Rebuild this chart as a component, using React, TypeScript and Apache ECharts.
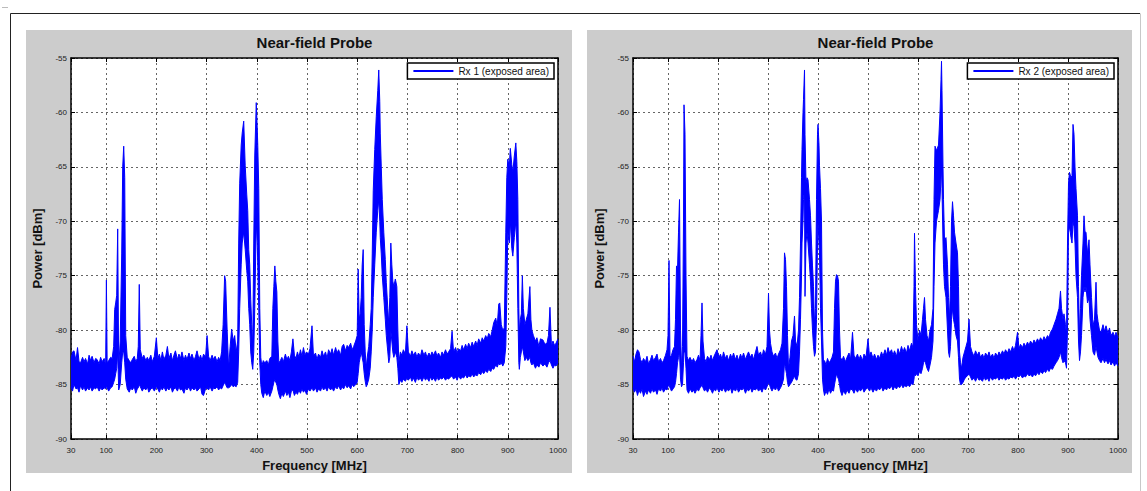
import React, { useEffect, useRef } from "react";
import * as echarts from "echarts";

// ---------- data ----------
const freqTicks = [30, 100, 200, 300, 400, 500, 600, 700, 800, 900, 1000];
const powerMin = -90;
const powerMax = -55;
const powerStep = 5;
const titles = ["Near-field Probe", "Near-field Probe"];
const seriesNames = ["Rx 1 (exposed area)", "Rx 2 (exposed area)"];
const xName = "Frequency [MHz]";
const yName = "Power [dBm]";

// [frequency MHz, upper envelope dBm, lower envelope dBm]
const rx1: [number, number, number][] = [
  [30, -82.7, -85.2], [33, -82.0, -85.6], [36, -81.9, -85.0], [40, -82.8, -85.4], [43, -81.6, -85.3],
  [46, -82.9, -85.7], [49, -83.0, -85.1], [53, -82.5, -85.5], [56, -82.9, -85.2], [59, -82.6, -85.6],
  [63, -83.1, -85.3], [66, -82.3, -85.5], [69, -82.8, -85.2], [72, -82.4, -85.6], [76, -83.0, -85.3],
  [79, -82.6, -85.4], [82, -82.7, -85.2], [86, -83.1, -85.6], [89, -82.5, -85.3], [92, -82.9, -85.5],
  [96, -82.6, -85.3], [99, -83.2, -85.4], [100.5, -75.4, -85.2], [102, -83.0, -85.3], [105, -82.8, -85.6],
  [109, -82.5, -85.3], [112, -82.6, -85.2], [115, -81.5, -84.8], [117, -78.1, -84.5], [119, -77.5, -84.0],
  [121, -76.8, -83.5], [123, -70.7, -82.0], [125, -83.5, -85.5], [128, -81.0, -85.0], [131, -73.0, -83.0],
  [133, -65.0, -82.0], [135, -63.1, -82.0], [137, -66.0, -83.0], [139, -80.5, -84.5], [142, -82.5, -85.4],
  [146, -82.8, -85.7], [149, -83.0, -85.3], [152, -82.7, -85.5], [156, -82.4, -85.2], [159, -82.9, -85.8],
  [162, -82.6, -85.4], [164, -81.5, -85.3], [166, -75.8, -85.0], [168, -81.8, -85.2], [172, -82.6, -85.6],
  [175, -82.3, -85.3], [179, -82.8, -85.5], [182, -82.5, -85.2], [185, -82.8, -85.7], [189, -82.3, -85.4],
  [192, -82.9, -85.3], [196, -82.4, -85.6], [200, -80.7, -85.2], [203, -82.6, -85.4], [206, -82.2, -85.7],
  [209, -82.8, -85.3], [212, -82.0, -85.5], [215, -82.7, -85.2], [219, -82.3, -85.6], [222, -81.5, -85.3],
  [225, -82.6, -85.5], [229, -82.1, -85.2], [232, -82.8, -85.7], [235, -82.3, -85.4], [238, -81.9, -85.3],
  [242, -82.7, -85.6], [245, -82.2, -85.2], [248, -82.6, -85.5], [251, -82.0, -85.4], [255, -82.8, -85.8],
  [258, -82.3, -85.3], [261, -82.7, -85.5], [265, -82.1, -85.2], [268, -82.6, -85.6], [271, -82.2, -85.3],
  [275, -82.8, -85.5], [278, -82.4, -85.3], [281, -81.9, -85.6], [285, -82.7, -85.4], [288, -82.3, -85.2],
  [291, -82.8, -85.9], [294, -82.2, -86.0], [298, -82.5, -85.4], [301, -80.5, -85.3], [304, -82.4, -85.5],
  [307, -82.8, -85.2], [311, -82.3, -85.6], [314, -82.7, -85.3], [317, -82.4, -85.4], [321, -82.9, -85.2],
  [324, -82.5, -85.5], [327, -82.8, -85.3], [330, -82.0, -85.4], [333, -79.5, -85.1], [336, -75.0, -84.8],
  [338, -75.5, -85.0], [341, -80.0, -85.3], [344, -83.5, -85.3], [347, -81.5, -85.2], [350, -79.9, -85.0],
  [353, -81.0, -85.2], [356, -80.5, -85.1], [359, -82.0, -85.2], [362, -81.0, -84.8], [364, -72.0, -82.0],
  [366, -66.5, -78.0], [369, -63.0, -74.0], [371, -61.9, -72.0], [374, -60.8, -71.0], [377, -64.9, -72.6],
  [380, -67.5, -74.5], [382, -69.0, -75.5], [384, -72.6, -78.0], [386, -74.0, -79.5], [388, -77.2, -82.0],
  [390, -79.5, -83.0], [392, -81.5, -83.6], [394, -72.0, -82.0], [396, -64.0, -78.0], [399, -59.1, -70.0],
  [401, -61.5, -72.0], [402, -63.0, -74.0], [404, -67.0, -78.0], [406, -78.0, -83.0], [408, -82.5, -85.0],
  [410, -83.3, -85.8], [413, -82.8, -86.2], [416, -83.0, -85.6], [420, -82.8, -86.0], [423, -83.2, -85.7],
  [426, -82.6, -86.1], [430, -82.4, -85.6], [432, -78.0, -85.2], [434, -76.0, -84.8], [436, -74.1, -84.5],
  [438, -75.5, -84.8], [440, -76.5, -85.0], [442, -81.0, -85.5], [444, -83.0, -85.9], [447, -82.8, -86.3],
  [450, -82.5, -85.8], [453, -82.9, -86.1], [457, -82.2, -85.6], [460, -82.7, -86.0], [463, -82.4, -85.7],
  [466, -82.8, -86.2], [469, -82.0, -85.6], [472, -80.8, -85.5], [475, -82.3, -86.0], [478, -82.6, -85.7],
  [481, -82.0, -85.9], [484, -82.5, -85.5], [487, -81.8, -85.8], [490, -82.4, -85.4], [493, -81.6, -85.7],
  [496, -82.3, -85.5], [499, -82.0, -85.9], [503, -82.2, -85.4], [506, -81.7, -85.6], [510, -79.6, -85.3],
  [513, -82.4, -85.6], [517, -82.1, -85.3], [520, -82.7, -85.7], [523, -82.2, -85.4], [527, -82.5, -85.6],
  [530, -81.9, -85.2], [533, -82.4, -85.5], [537, -82.0, -85.3], [540, -82.6, -85.6], [543, -81.8, -85.2],
  [547, -82.2, -85.5], [550, -81.7, -85.3], [553, -82.3, -85.6], [557, -81.6, -85.2], [560, -82.1, -85.4],
  [563, -81.8, -85.1], [567, -82.3, -85.5], [570, -81.5, -85.2], [573, -81.3, -85.4], [577, -81.9, -85.0],
  [580, -81.4, -85.3], [583, -81.6, -85.1], [587, -81.2, -85.4], [590, -81.8, -85.0], [593, -81.5, -85.2],
  [597, -81.0, -85.0], [600, -80.5, -84.8], [602, -74.4, -84.0], [604, -79.0, -83.0], [606, -78.5, -82.5],
  [608, -77.0, -82.0], [610, -74.0, -82.5], [612, -72.6, -83.0], [614, -79.5, -84.0], [616, -82.0, -84.7],
  [618, -83.5, -85.2], [620, -82.5, -85.0], [623, -81.5, -84.5], [626, -79.5, -83.5], [628, -78.0, -82.0],
  [630, -73.0, -80.0], [632, -67.2, -77.0], [635, -63.4, -74.0], [638, -60.4, -71.0], [641, -58.0, -69.0],
  [643, -56.1, -68.0], [645, -59.0, -70.0], [646, -61.9, -71.5], [648, -65.0, -73.0], [650, -68.0, -75.0],
  [653, -71.0, -77.0], [656, -73.5, -79.0], [658, -75.6, -80.5], [661, -78.0, -82.0], [663, -79.5, -83.0],
  [665, -77.0, -82.5], [667, -72.0, -80.0], [669, -74.0, -81.0], [671, -75.5, -82.0], [673, -76.0, -82.5],
  [676, -75.3, -82.0], [679, -76.0, -82.5], [681, -80.0, -83.5], [683, -83.0, -85.0], [686, -82.0, -84.6],
  [689, -82.3, -84.8], [692, -81.8, -84.5], [696, -82.2, -84.7], [699, -79.6, -84.4], [702, -82.0, -84.6],
  [706, -82.4, -84.3], [709, -81.9, -84.7], [712, -82.3, -84.4], [716, -82.0, -84.8], [719, -82.5, -84.3],
  [722, -82.1, -84.6], [726, -82.4, -84.4], [729, -81.8, -84.7], [733, -82.3, -84.3], [736, -82.0, -84.6],
  [739, -82.5, -84.4], [743, -82.1, -84.7], [746, -82.4, -84.3], [749, -82.0, -84.6], [752, -82.3, -84.4],
  [756, -81.9, -84.7], [759, -82.4, -84.3], [762, -82.1, -84.6], [766, -82.5, -84.4], [769, -82.0, -84.5],
  [772, -82.3, -84.3], [776, -81.8, -84.6], [779, -82.2, -84.4], [782, -82.0, -84.5], [786, -81.7, -84.3],
  [789, -80.1, -84.2], [792, -82.0, -84.5], [796, -81.6, -84.3], [799, -82.1, -84.6], [802, -81.7, -84.2],
  [806, -81.9, -84.5], [809, -81.4, -84.3], [812, -81.8, -84.4], [816, -81.3, -84.1], [819, -81.7, -84.4],
  [822, -81.2, -84.2], [826, -81.6, -84.3], [829, -81.1, -84.0], [832, -81.5, -84.3], [836, -81.0, -84.1],
  [839, -81.4, -84.2], [842, -80.8, -83.9], [846, -81.2, -84.1], [849, -80.7, -83.8], [852, -81.0, -84.0],
  [856, -80.5, -83.7], [859, -80.8, -83.9], [862, -80.3, -83.6], [866, -80.6, -83.8], [869, -80.0, -83.5],
  [872, -79.3, -83.6], [876, -78.9, -83.2], [879, -79.6, -83.4], [882, -77.6, -83.0], [884, -77.5, -83.2],
  [887, -79.5, -83.0], [890, -80.0, -83.3], [893, -79.8, -83.0], [896, -71.0, -81.5], [898, -66.0, -77.0],
  [900, -64.3, -71.0], [903, -65.0, -72.0], [905, -63.3, -70.0], [908, -64.8, -72.5], [910, -65.5, -73.2],
  [913, -64.0, -71.5], [916, -62.8, -70.0], [918, -64.5, -72.0], [920, -68.0, -78.0], [922, -78.0, -83.0],
  [923, -80.2, -83.6], [925, -79.0, -82.5], [927, -78.5, -82.0], [929, -75.0, -81.5], [931, -78.0, -82.0],
  [934, -79.5, -82.8], [937, -79.0, -82.5], [940, -78.5, -82.8], [944, -76.0, -82.5], [946, -79.0, -83.0],
  [948, -80.0, -83.2], [951, -80.5, -83.0], [955, -81.0, -83.5], [958, -80.7, -83.2], [962, -81.5, -83.4],
  [965, -80.8, -83.0], [970, -80.9, -83.3], [974, -81.3, -83.1], [978, -81.2, -83.4], [981, -80.5, -83.0],
  [984, -77.9, -82.8], [987, -81.5, -83.2], [990, -81.0, -83.5], [993, -81.4, -83.2], [996, -81.2, -83.3],
  [1000, -80.8, -83.0],
];

const rx2: [number, number, number][] = [
  [30, -82.4, -85.3], [33, -82.9, -85.7], [36, -82.2, -85.4], [39, -81.8, -86.0], [42, -82.0, -85.5],
  [45, -82.7, -85.8], [48, -83.0, -85.4], [51, -82.6, -86.1], [55, -82.9, -85.6], [58, -82.4, -85.9],
  [61, -83.1, -85.5], [65, -82.7, -85.8], [68, -82.3, -85.4], [71, -82.8, -85.7], [75, -82.5, -85.5],
  [78, -82.2, -85.9], [81, -82.9, -85.4], [85, -82.6, -85.6], [88, -83.0, -85.3], [91, -82.8, -85.7],
  [95, -82.3, -85.4], [98, -81.8, -85.5], [100, -80.5, -85.2], [102, -73.6, -85.0], [104, -82.5, -85.3],
  [107, -82.3, -85.6], [110, -81.8, -85.4], [113, -81.5, -85.2], [115, -79.0, -84.8], [117, -74.1, -84.0],
  [119, -74.5, -83.0], [121, -71.0, -82.5], [123, -68.0, -82.0], [125, -80.0, -84.5], [127, -83.5, -85.2],
  [129, -81.5, -85.0], [131, -70.0, -83.0], [132, -59.3, -82.0], [134, -62.0, -82.0], [136, -75.0, -83.5],
  [138, -82.4, -85.5], [141, -82.8, -85.8], [144, -82.5, -85.4], [148, -82.9, -85.7], [151, -82.6, -85.5],
  [154, -83.0, -85.8], [158, -82.7, -85.4], [161, -82.3, -85.6], [164, -82.8, -85.3], [166, -80.5, -85.2],
  [168, -77.5, -85.0], [170, -81.0, -85.3], [173, -82.6, -85.6], [176, -82.9, -85.4], [179, -82.4, -85.7],
  [183, -82.7, -85.3], [186, -82.3, -85.5], [189, -82.8, -85.8], [192, -82.4, -85.4], [195, -82.1, -85.6],
  [198, -81.8, -85.3], [202, -82.5, -85.7], [205, -82.2, -85.4], [208, -82.7, -85.6], [211, -82.0, -85.3],
  [215, -82.6, -85.7], [218, -82.3, -85.4], [221, -82.8, -85.6], [225, -82.2, -85.3], [228, -82.6, -85.8],
  [231, -82.1, -85.4], [235, -82.7, -85.6], [238, -82.3, -85.3], [241, -82.8, -85.7], [245, -82.2, -85.4],
  [248, -82.6, -85.5], [251, -82.1, -85.3], [255, -82.7, -85.8], [258, -82.3, -85.4], [261, -82.0, -85.6],
  [265, -82.5, -85.3], [268, -82.2, -85.7], [271, -82.7, -85.4], [275, -82.0, -85.5], [278, -81.5, -85.3],
  [281, -82.3, -85.6], [285, -82.0, -85.4], [288, -82.5, -85.7], [291, -81.8, -85.3], [295, -82.2, -85.5],
  [298, -81.5, -85.2], [301, -76.6, -84.8], [303, -80.0, -85.0], [305, -81.2, -85.3], [308, -82.0, -85.6],
  [311, -82.4, -85.3], [315, -82.1, -85.5], [318, -82.6, -85.2], [321, -82.2, -85.6], [325, -81.8, -85.3],
  [328, -81.2, -85.0], [331, -78.0, -84.5], [333, -72.9, -83.0], [335, -73.5, -83.5], [337, -76.0, -84.0],
  [339, -80.5, -84.8], [341, -83.5, -85.2], [344, -82.5, -85.0], [347, -81.0, -84.8], [350, -80.5, -84.5],
  [353, -78.7, -84.2], [355, -81.0, -84.5], [358, -81.5, -84.6], [361, -80.0, -84.0], [363, -77.0, -82.0],
  [365, -72.0, -79.0], [367, -66.0, -75.0], [368, -63.4, -72.0], [370, -60.0, -70.0], [371, -58.8, -68.0],
  [373, -56.1, -67.0], [374, -62.0, -76.9], [376, -66.5, -72.0], [378, -66.0, -71.0], [380, -66.2, -72.0],
  [383, -68.0, -74.0], [385, -69.5, -75.5], [387, -72.0, -78.0], [389, -74.1, -80.0], [391, -76.0, -81.5],
  [393, -79.5, -82.4], [395, -78.0, -82.0], [397, -68.0, -79.0], [399, -62.0, -72.0], [400, -61.1, -70.0],
  [402, -63.0, -72.0], [403, -64.9, -73.0], [405, -67.0, -78.0], [407, -70.0, -81.0], [409, -80.0, -84.5],
  [411, -83.0, -85.5], [413, -82.8, -86.0], [416, -83.2, -85.6], [419, -82.6, -85.9], [422, -83.0, -85.4],
  [425, -82.8, -85.8], [428, -82.5, -85.5], [431, -82.0, -85.6], [433, -78.0, -85.0], [435, -75.5, -84.5],
  [437, -74.9, -84.0], [439, -75.0, -84.3], [441, -75.5, -84.5], [443, -80.0, -85.0], [445, -82.5, -85.6],
  [448, -82.8, -86.0], [451, -82.4, -85.6], [455, -82.9, -85.9], [458, -82.5, -85.5], [462, -82.1, -85.8],
  [465, -82.7, -85.4], [469, -80.2, -85.5], [472, -82.3, -85.8], [475, -82.6, -85.4], [479, -82.2, -85.7],
  [482, -82.7, -85.4], [485, -82.3, -85.6], [489, -82.8, -85.3], [492, -82.2, -85.7], [496, -82.5, -85.4],
  [500, -80.8, -85.3], [503, -82.4, -85.6], [506, -82.0, -85.3], [510, -82.6, -85.7], [513, -82.2, -85.4],
  [517, -82.7, -85.6], [520, -82.3, -85.3], [523, -82.6, -85.5], [527, -82.0, -85.2], [530, -82.4, -85.6],
  [534, -81.8, -85.3], [537, -82.3, -85.5], [540, -81.6, -85.2], [543, -82.1, -85.4], [547, -81.8, -85.1],
  [550, -82.3, -85.5], [553, -81.9, -85.2], [557, -82.4, -85.4], [560, -81.7, -85.1], [563, -82.2, -85.3],
  [567, -81.5, -85.0], [570, -82.0, -85.3], [573, -81.6, -85.1], [577, -82.1, -85.2], [580, -81.4, -85.0],
  [583, -81.9, -85.2], [587, -81.2, -84.9], [590, -81.6, -85.0], [592, -76.0, -84.5], [593, -71.1, -84.0],
  [595, -76.0, -84.2], [597, -79.5, -84.0], [600, -81.0, -84.2], [603, -80.0, -83.8], [606, -80.5, -84.0],
  [609, -79.0, -83.5], [611, -78.0, -83.0], [613, -77.0, -82.8], [615, -79.0, -83.0], [618, -80.5, -83.5],
  [621, -81.0, -83.8], [624, -80.0, -83.2], [627, -79.5, -82.5], [630, -78.0, -81.0], [632, -68.0, -76.0],
  [634, -63.1, -72.0], [637, -63.5, -70.0], [641, -63.0, -69.0], [644, -60.0, -68.0], [646, -57.0, -66.0],
  [647, -55.3, -65.0], [648, -58.0, -67.0], [650, -65.0, -72.0], [651, -68.0, -74.0], [653, -71.7, -76.0],
  [656, -71.5, -77.0], [659, -74.0, -80.0], [661, -77.0, -82.0], [663, -79.0, -82.5], [665, -76.0, -81.5],
  [667, -70.0, -79.0], [669, -68.2, -78.0], [671, -69.5, -79.0], [673, -71.0, -79.5], [676, -72.0, -80.5],
  [679, -72.9, -81.0], [681, -76.0, -82.5], [683, -82.0, -84.5], [685, -83.0, -85.0], [687, -83.5, -85.0],
  [690, -82.5, -84.8], [693, -82.0, -84.5], [696, -81.5, -84.3], [699, -81.0, -84.2], [702, -79.0, -84.0],
  [705, -81.5, -84.3], [708, -82.0, -84.6], [712, -82.4, -84.4], [715, -81.9, -84.7], [719, -82.3, -84.3],
  [722, -82.0, -84.6], [725, -82.5, -84.5], [729, -82.2, -84.7], [732, -82.6, -84.3], [735, -82.1, -84.6],
  [739, -82.4, -84.4], [742, -82.0, -84.7], [745, -82.5, -84.3], [749, -82.2, -84.6], [752, -82.6, -84.4],
  [755, -82.1, -84.5], [759, -82.4, -84.3], [762, -82.0, -84.6], [765, -82.3, -84.4], [769, -81.9, -84.5],
  [772, -82.2, -84.3], [775, -81.8, -84.6], [779, -82.1, -84.4], [782, -81.7, -84.5], [785, -82.0, -84.3],
  [789, -81.5, -84.4], [792, -81.9, -84.2], [795, -81.4, -84.5], [799, -80.2, -84.2], [802, -81.7, -84.3],
  [805, -81.3, -84.1], [809, -81.6, -84.4], [812, -81.2, -84.2], [815, -81.5, -84.3], [819, -81.1, -84.0],
  [822, -81.4, -84.2], [825, -81.0, -84.1], [829, -81.3, -84.3], [832, -80.9, -84.0], [835, -81.2, -84.2],
  [839, -80.8, -83.9], [842, -81.1, -84.1], [845, -80.7, -83.8], [849, -81.0, -84.0], [852, -80.6, -83.7],
  [855, -80.9, -83.9], [859, -80.5, -83.6], [862, -80.7, -83.8], [865, -80.2, -83.5], [869, -79.9, -83.6],
  [872, -79.5, -83.3], [876, -79.0, -83.0], [879, -78.5, -82.8], [882, -78.0, -82.5], [885, -76.4, -82.0],
  [887, -78.0, -82.5], [890, -79.0, -83.0], [892, -78.5, -82.8], [895, -79.5, -83.0], [897, -80.5, -83.5],
  [899, -72.0, -80.0], [901, -66.5, -71.0], [903, -65.5, -70.5], [906, -66.0, -71.5], [908, -65.8, -72.0],
  [910, -61.1, -70.0], [912, -62.0, -70.5], [914, -65.0, -72.0], [916, -67.0, -75.0], [919, -69.5, -77.0],
  [921, -76.0, -81.0], [923, -80.5, -82.8], [925, -78.0, -82.0], [927, -75.0, -80.5], [930, -72.0, -77.0],
  [932, -69.5, -76.0], [934, -71.0, -76.5], [936, -71.0, -76.0], [939, -73.0, -77.5], [942, -71.7, -77.0],
  [944, -74.0, -79.0], [947, -77.0, -80.5], [950, -79.6, -82.0], [953, -79.0, -82.3], [956, -75.6, -81.5],
  [958, -78.5, -82.0], [960, -79.2, -82.5], [963, -80.0, -82.8], [966, -80.2, -83.0], [970, -79.5, -82.6],
  [973, -80.1, -83.0], [976, -79.6, -82.7], [980, -80.3, -83.1], [983, -79.8, -82.8], [986, -80.5, -83.2],
  [990, -80.2, -82.9], [993, -80.6, -83.3], [996, -80.2, -83.0], [1000, -80.7, -83.3],
];

const spectra = [rx1, rx2];

// ---------- layout / style ----------
const W = 1147;
const H = 491;
const FONT = "'Liberation Sans', Arial, Helvetica, sans-serif";
const BLUE = "#0000ff";
const PANEL_GRAY = "#cccccc";

const panels = [
  { bgLeft: 26, bgRight: 572, plotLeft: 71, plotRight: 558 },
  { bgLeft: 587, bgRight: 1132, plotLeft: 633, plotRight: 1118 },
];
const BG_TOP = 30;
const BG_BOTTOM = 473;
const PLOT_TOP = 58;
const PLOT_BOTTOM = 439;

export default function App() {
  const ref = useRef<HTMLDivElement>(null);

  useEffect(() => {
    if (!ref.current) return;
    const chart = echarts.init(ref.current, null, { renderer: "svg" });

    const grid: any[] = [];
    const xAxis: any[] = [];
    const yAxis: any[] = [];
    const series: any[] = [];
    const legend: any[] = [];
    const graphic: any[] = [];

    // outer page frame
    graphic.push(
      { type: "line", z: -20, shape: { x1: 10.5, y1: 13.5, x2: 1140, y2: 13.5 }, style: { stroke: "#222", lineWidth: 1 } },
      { type: "line", z: -20, shape: { x1: 10.5, y1: 13.5, x2: 10.5, y2: 491 }, style: { stroke: "#222", lineWidth: 1 } },
      { type: "line", z: -20, shape: { x1: 1140.5, y1: 13.5, x2: 1140.5, y2: 491 }, style: { stroke: "#c8c8c8", lineWidth: 1 } },
      { type: "line", z: -20, shape: { x1: 2, y1: 7.5, x2: 8, y2: 7.5 }, style: { stroke: "#bbb", lineWidth: 1 } }
    );

    const axisLine = { show: true, onZero: false, lineStyle: { color: "#000", width: 1.5 } };
    const tick = { show: true, inside: true, length: 4, lineStyle: { color: "#000", width: 1 } };
    const split = { show: true, lineStyle: { color: "#666", type: [2, 3], width: 1 } };
    const plainNumber = (v: number) => String(v);

    panels.forEach((p, i) => {
      const plotW = p.plotRight - p.plotLeft;
      const plotH = PLOT_BOTTOM - PLOT_TOP;
      graphic.push({
        type: "rect",
        z: -10,
        shape: { x: p.bgLeft, y: BG_TOP, width: p.bgRight - p.bgLeft, height: BG_BOTTOM - BG_TOP },
        style: { fill: PANEL_GRAY },
      });
      graphic.push({
        type: "text",
        z: 5,
        x: (p.plotLeft + p.plotRight) / 2,
        y: 42,
        style: {
          text: titles[i],
          font: `bold 15px ${FONT}`,
          fill: "#111",
          align: "center",
          verticalAlign: "middle",
        },
      });

      grid.push({
        left: p.plotLeft,
        top: PLOT_TOP,
        width: plotW,
        height: plotH,
        show: true,
        backgroundColor: "#ffffff",
        borderWidth: 0,
      });

      // bottom x axis
      xAxis.push({
        type: "value",
        gridIndex: i,
        position: "bottom",
        min: freqTicks[0],
        max: freqTicks[freqTicks.length - 1],
        axisLine,
        axisTick: { ...tick, customValues: freqTicks },
        axisLabel: { customValues: freqTicks, formatter: plainNumber, fontSize: 8, color: "#222", margin: 7, fontFamily: FONT },
        splitLine: split,
        name: xName,
        nameLocation: "middle",
        nameGap: 18,
        nameTextStyle: { fontSize: 13, fontWeight: "bold", color: "#111", fontFamily: FONT },
      });
      // top x axis (box)
      xAxis.push({
        type: "value",
        gridIndex: i,
        position: "top",
        min: freqTicks[0],
        max: freqTicks[freqTicks.length - 1],
        axisLine,
        axisTick: { ...tick, customValues: freqTicks },
        axisLabel: { show: false },
        splitLine: { show: false },
      });
      // left y axis
      yAxis.push({
        type: "value",
        gridIndex: i,
        position: "left",
        min: powerMin,
        max: powerMax,
        interval: powerStep,
        axisLine,
        axisTick: tick,
        axisLabel: { fontSize: 8, color: "#222", margin: 4, fontFamily: FONT, formatter: plainNumber },
        splitLine: split,
        name: yName,
        nameLocation: "middle",
        nameGap: 27,
        nameRotate: 90,
        nameTextStyle: { fontSize: 13, fontWeight: "bold", color: "#111", fontFamily: FONT },
      });
      // right y axis (box)
      yAxis.push({
        type: "value",
        gridIndex: i,
        position: "right",
        min: powerMin,
        max: powerMax,
        interval: powerStep,
        axisLine,
        axisTick: tick,
        axisLabel: { show: false },
        splitLine: { show: false },
      });

      // rows are [power, frequency] so the power dimension comes first and is the stacked one
      const data = spectra[i];
      const stackId = `band${i}`;
      series.push({
        type: "line",
        name: `${seriesNames[i]} min`,
        xAxisIndex: i * 2,
        yAxisIndex: i * 2,
        stack: stackId,
        stackStrategy: "all",
        encode: { x: 1, y: 0 },
        symbol: "none",
        silent: true,
        lineStyle: { color: BLUE, width: 1 },
        data: data.map((d) => [d[2], d[0]]),
        z: 3,
      });
      series.push({
        type: "line",
        name: seriesNames[i],
        xAxisIndex: i * 2,
        yAxisIndex: i * 2,
        stack: stackId,
        stackStrategy: "all",
        encode: { x: 1, y: 0 },
        symbol: "none",
        silent: true,
        color: BLUE,
        lineStyle: { color: BLUE, width: 1 },
        areaStyle: { color: BLUE, opacity: 1 },
        data: data.map((d) => [d[1] - d[2], d[0]]),
        z: 3,
      });

      legend.push({
        data: [seriesNames[i]],
        right: W - p.plotRight + 4,
        top: 63,
        orient: "horizontal",
        backgroundColor: "#ffffff",
        borderColor: "#000",
        borderWidth: 1.5,
        borderRadius: 0,
        padding: [3, 5, 3, 6],
        icon: "rect",
        itemWidth: 40,
        itemHeight: 2,
        itemGap: 4,
        selectedMode: false,
        itemStyle: { color: BLUE },
        textStyle: { fontSize: 10, color: "#111", fontFamily: FONT },
      });
    });

    chart.setOption({
      animation: false,
      backgroundColor: "#ffffff",
      textStyle: { fontFamily: FONT },
      grid,
      xAxis,
      yAxis,
      series,
      legend,
      graphic,
    });

    return () => chart.dispose();
  }, []);

  return (
    <div
      ref={ref}
      style={{ position: "absolute", left: 0, top: 0, width: W, height: H }}
    />
  );
}
